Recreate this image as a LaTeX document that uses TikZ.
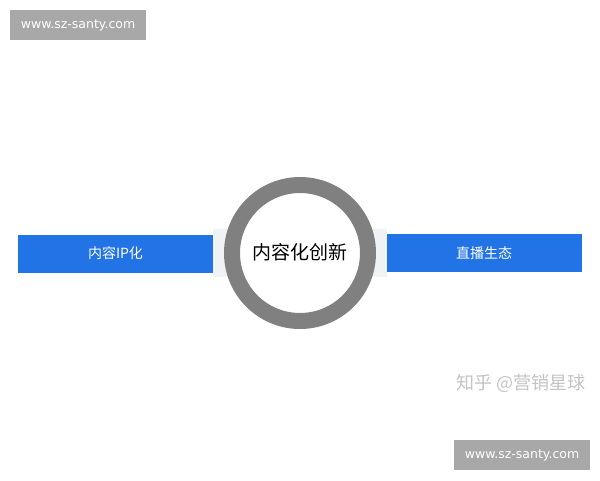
\documentclass[tikz,border=0pt]{standalone}
\usepackage{fontspec}
\newfontfamily\cjk{Noto Sans CJK SC}
\newfontfamily\wm{DejaVu Sans}
\definecolor{boxblue}{HTML}{2273E6}
\definecolor{ringgray}{HTML}{808080}
\definecolor{wmgray}{HTML}{A8A8A8}
\definecolor{zhgray}{HTML}{C4C4C4}
\definecolor{bandcol}{HTML}{F0F3F5}
\begin{document}
\begin{tikzpicture}[x=1pt,y=-1pt,
  bluebox/.style={fill=boxblue, draw=none, minimum width=195pt, minimum height=38pt, inner sep=0pt, text=white, font=\cjk\fontsize{14}{16}\selectfont},
  wmbox/.style={fill=wmgray, draw=none, minimum width=136pt, minimum height=30pt, inner sep=0pt, text=white, font=\wm\fontsize{12.5}{14}\selectfont},
  ring/.style={circle, draw=ringgray, line width=16pt, fill=white, minimum size=136pt, inner sep=0pt}]
\useasboundingbox (0,0) rectangle (600,480);
\fill[white] (0,0) rectangle (600,480);
% faint band behind the boxes
\fill[bandcol] (213,229) rectangle (240,277);
\fill[bandcol] (360,229) rectangle (387,277);
\node[bluebox] (left) at (115.5,253.5) {内容IP化};
\node[bluebox] (right) at (484,253) {直播生态};
\node[ring, font=\cjk\fontsize{19}{22}\selectfont] (center) at (300,253) {\raisebox{3pt}{内容化创新}};
\node[wmbox] (wm1) at (78,25) {www.sz-santy.com};
\node[wmbox] (wm2) at (522,455) {www.sz-santy.com};
\node[text=zhgray, font=\cjk\fontsize{18}{20}\selectfont, inner sep=0pt] (zh) at (521,383) {知乎 @营销星球};
\end{tikzpicture}
\end{document}
